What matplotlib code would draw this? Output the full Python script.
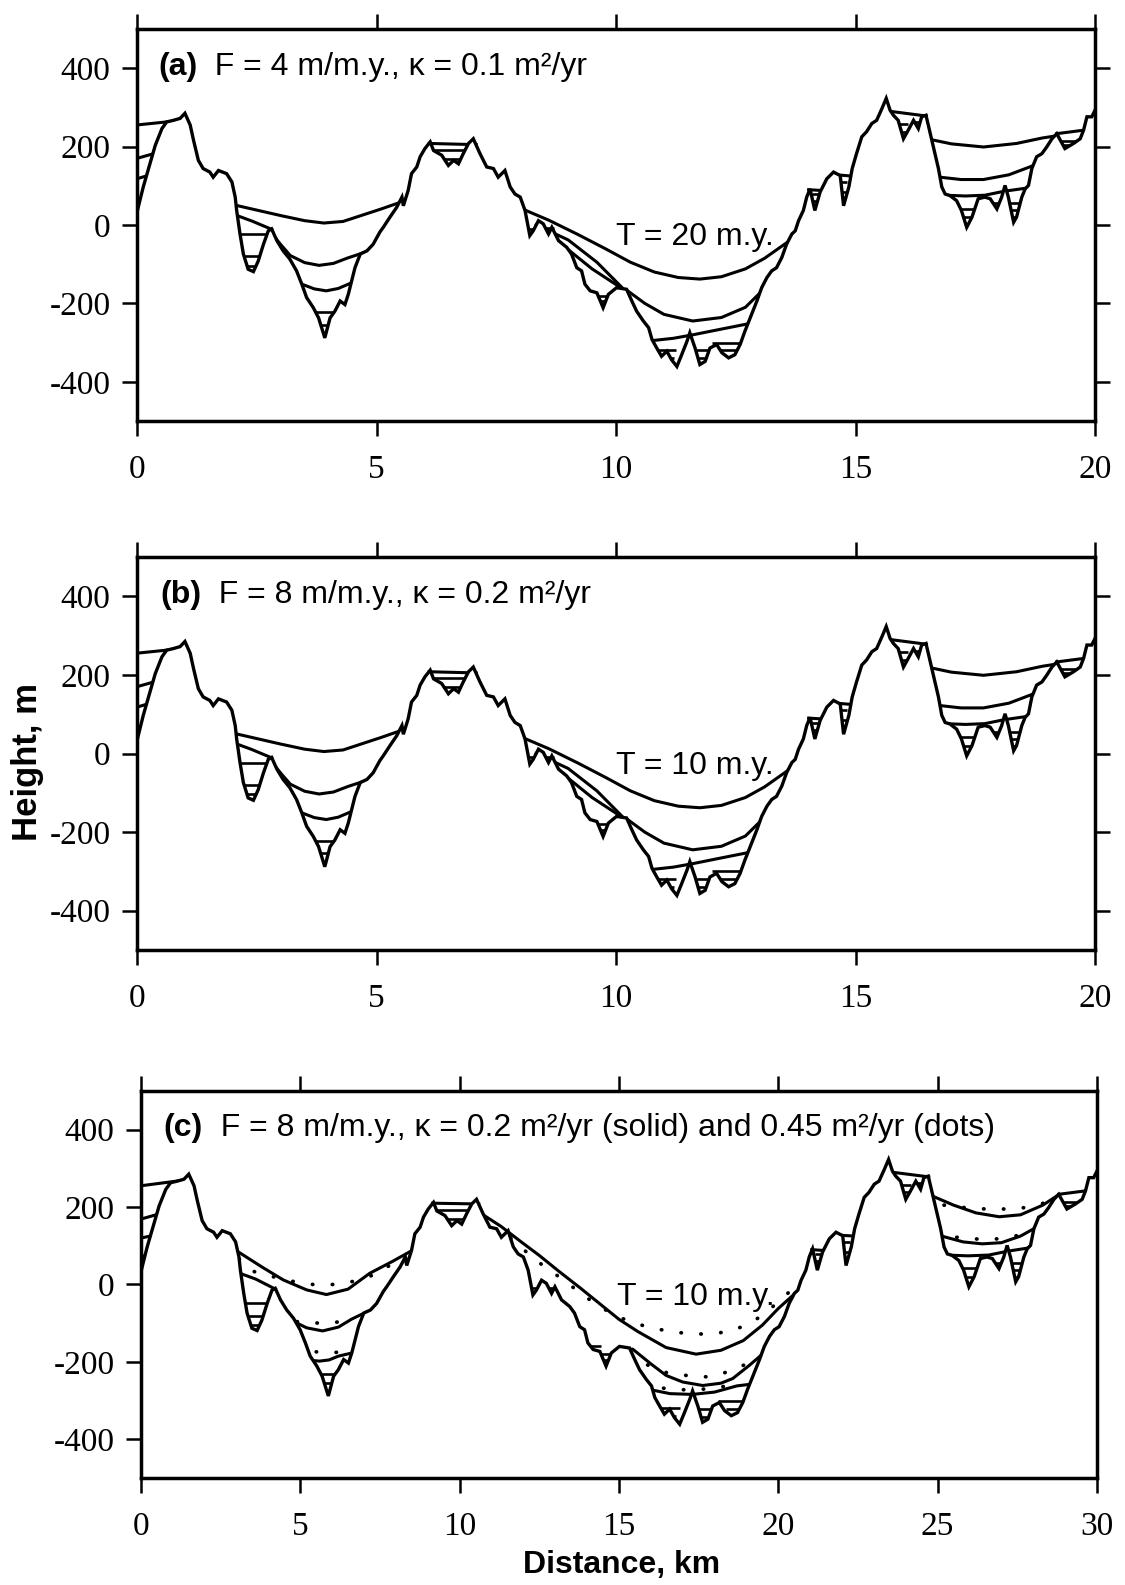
import matplotlib as mpl
mpl.use('Agg')
import matplotlib.pyplot as plt
from matplotlib.patches import Polygon
from matplotlib import font_manager

plt.rcParams['axes.unicode_minus'] = False

# topography profile used in panels (a) and (b): distance (km), height (m)
topo_x = [0.00, 0.13, 0.27, 0.38, 0.52, 0.62, 0.76, 0.90, 1.00, 1.11, 1.18, 1.28, 1.38, 1.52, 1.59,
          1.70, 1.87, 1.98, 2.05, 2.08, 2.15, 2.22, 2.32, 2.43, 2.53, 2.64, 2.74, 2.81, 2.92, 3.05,
          3.19, 3.33, 3.44, 3.54, 3.68, 3.79, 3.92, 4.03, 4.13, 4.24, 4.34, 4.41, 4.48, 4.55, 4.66,
          4.80, 4.93, 5.07, 5.14, 5.28, 5.42, 5.53, 5.56, 5.66, 5.73, 5.84, 5.91, 6.01, 6.12, 6.19,
          6.36, 6.50, 6.61, 6.71, 6.81, 6.92, 7.02, 7.16, 7.30, 7.44, 7.54, 7.68, 7.79, 7.89, 8.00,
          8.10, 8.20, 8.27, 8.38, 8.48, 8.59, 8.66, 8.80, 8.97, 9.07, 9.18, 9.28, 9.35, 9.46, 9.60,
          9.73, 9.84, 10.01, 10.22, 10.33, 10.43, 10.57, 10.68, 10.75, 10.85, 10.95, 11.06, 11.16,
          11.27, 11.37, 11.48, 11.54, 11.65, 11.75, 11.86, 11.96, 12.10, 12.21, 12.35, 12.48, 12.59,
          12.69, 12.80, 12.94, 13.04, 13.15, 13.25, 13.35, 13.46, 13.56, 13.67, 13.74, 13.81, 13.91,
          13.98, 14.05, 14.15, 14.26, 14.40, 14.54, 14.68, 14.75, 14.86, 14.93, 15.02, 15.13, 15.23,
          15.34, 15.44, 15.55, 15.64, 15.72, 15.79, 15.89, 16.00, 16.10, 16.21, 16.31, 16.38, 16.47,
          16.56, 16.66, 16.73, 16.80, 16.87, 16.97, 17.11, 17.21, 17.32, 17.43, 17.56, 17.70, 17.81,
          17.95, 18.05, 18.12, 18.19, 18.30, 18.36, 18.47, 18.54, 18.61, 18.68, 18.78, 18.89, 18.99,
          19.10, 19.20, 19.37, 19.55, 19.69, 19.76, 19.83, 19.93, 20.00]
topo_h = [33, 97, 156, 203, 246, 263, 267, 272, 285, 255, 216, 165, 144, 135, 122,
          139, 131, 110, 71, 37, -23, -74, -113, -119, -92, -49, -15, -10, -40, -66,
          -87, -117, -151, -185, -211, -237, -288, -237, -220, -194, -203, -177, -143, -109, -74,
          -66, -49, -18, -6, 20, 45, 71, 49, 88, 131, 148, 174, 195, 212, 190,
          178, 152, 165, 156, 182, 208, 220, 182, 148, 144, 122, 139, 97, 79, 71,
          37, -27, -15, 11, 3, -23, -6, -40, -57, -74, -109, -117, -151, -168, -173,
          -211, -177, -160, -164, -194, -220, -245, -262, -292, -314, -335, -322, -344,
          -361, -331, -297, -275, -314, -356, -348, -314, -305, -326, -339, -331, -305,
          -271, -237, -194, -160, -134, -117, -109, -83, -49, -23, -15, 11, 37,
          71, 92, 37, 84, 118, 135, 126, 49, 97, 144, 182, 225, 238,
          259, 267, 297, 323, 293, 280, 267, 220, 242, 267, 246, 276, 280,
          233, 182, 144, 97, 79, 75, 62, 37, -6, 20, 67, 71, 67,
          41, 71, 101, 71, 7, 20, 71, 92, 101, 144, 174, 182, 199,
          220, 233, 195, 208, 220, 242, 276, 276, 293]
stretch_c = 1.5   # panel (c) shows the same profile over 30 km

# sediment surfaces, panels (a) and (b)
ab_solid = [
    ([-0.1, 0.7], [254, 264]),
    ([0.0, 0.35], [170, 182]),
    ([0.0, 0.22], [118, 126]),
    ([0.0, 0.12], [62, 70]),
    ([2.0, 2.5, 3.0, 3.5, 3.9, 4.3, 4.75, 5.1, 5.5], [52, 38, 24, 11, 5, 9, 27, 41, 58]),
    ([2.0, 2.4, 2.81], [28, 10, -11]),
    ([2.83, 3.0, 3.2, 3.5, 3.8, 4.1, 4.4, 4.8], [-24, -50, -78, -96, -103, -98, -84, -68]),
    ([3.42, 3.7, 3.95, 4.2, 4.47], [-150, -163, -168, -162, -148]),
    ([6.1, 7.08], [208, 205]),
    ([8.1, 8.6, 9.2, 9.8, 10.3, 10.8, 11.3, 11.75, 12.2, 12.7, 13.1, 13.6],
     [38, 12, -24, -62, -95, -120, -134, -138, -132, -112, -85, -42]),
    ([8.33, 9.0, 9.6, 10.25], [0, -38, -95, -175]),
    ([8.82, 9.5, 10.2], [-45, -112, -168]),
    ([10.22, 10.6, 11.0, 11.6, 12.2, 12.7, 13.05], [-166, -200, -228, -245, -236, -210, -168]),
    ([10.75, 11.2, 11.61, 12.1, 12.76], [-295, -289, -280, -268, -252]),
    ([14.02, 14.3], [90, 88]),
    ([14.6, 14.9], [128, 125]),
    ([15.72, 16.48], [290, 278]),
    ([16.57, 17.0, 17.67, 18.36, 18.9, 19.22], [218, 207, 199, 208, 222, 228]),
    ([16.76, 17.2, 17.67, 18.2, 18.72], [122, 116, 116, 128, 152]),
    ([16.85, 17.3, 17.7, 18.1, 18.56], [76, 74, 76, 86, 94]),
    ([19.2, 19.77], [233, 242]),
]
ab_stripes = [
    (2.1, 2.75, -23), (2.15, 2.65, -79), (2.2, 2.6, -104),
    (3.6, 4.15, -222), (3.7, 4.05, -254),
    (6.15, 6.95, 192), (6.4, 6.8, 168),
    (8.12, 8.3, -10), (8.5, 8.7, -8), (9.62, 9.85, -180), (9.66, 9.8, -195),
    (10.8, 11.25, -318), (10.9, 11.2, -340), (11.55, 11.95, -318), (11.65, 11.9, -340),
    (12.0, 12.65, -300), (12.15, 12.55, -320),
    (14.08, 14.25, 60), (14.1, 14.22, 78), (14.68, 14.85, 85), (14.7, 14.82, 110),
    (15.9, 16.1, 258), (15.95, 16.06, 238), (16.25, 16.35, 262),
    (17.15, 17.5, 42), (17.2, 17.45, 20), (17.85, 18.02, 55),
    (18.22, 18.45, 55), (18.24, 18.42, 37), (18.27, 18.38, 20),
    (19.25, 19.6, 214), (19.3, 19.5, 204),
]

# sediment surfaces, panel (c): kappa = 0.2 (solid) and 0.45 (dots)
c_solid = [
    ([-0.1, 1.4], [254, 270]),
    ([0.0, 0.6], [169, 183]),
    ([0.0, 0.35], [120, 126]),
    ([0.0, 0.2], [72, 76]),
    ([3.02, 3.8, 4.46, 5.2, 5.82, 6.5, 7.18, 7.9, 8.6], [86, 45, 12, -14, -26, -12, 29, 60, 92]),
    ([3.0, 3.6, 4.22], [32, 14, -12]),
    ([4.62, 4.9, 5.2, 5.7, 6.2, 6.6, 7.05], [-80, -100, -112, -120, -110, -90, -72]),
    ([5.2, 5.6, 5.9, 6.2, 6.62], [-195, -198, -195, -185, -177]),
    ([9.15, 10.6], [210, 208]),
    ([10.7, 11.3, 11.9, 12.5, 13.1, 13.8, 14.4, 15.0, 15.6, 16.48, 17.42, 18.2, 18.9, 19.5, 20.0, 20.5],
     [182, 150, 112, 75, 35, -10, -50, -90, -122, -163, -180, -170, -145, -105, -62, -25]),
    ([15.3, 15.43, 16.0, 16.48, 17.0, 17.63, 18.2, 18.57, 19.09, 19.5],
     [-168, -167, -205, -235, -252, -261, -255, -243, -209, -180]),
    ([16.0, 16.6, 17.3, 18.0, 18.7, 19.1], [-272, -282, -284, -278, -262, -258]),
    ([21.05, 21.4], [90, 88]),
    ([21.8, 22.4], [128, 125]),
    ([23.58, 24.72], [290, 278]),
    ([24.85, 25.5, 26.2, 26.93, 27.6, 28.3, 28.8], [228, 205, 185, 175, 180, 205, 232]),
    ([25.13, 25.8, 26.4, 27.0, 27.6, 28.3], [125, 110, 105, 108, 125, 157]),
    ([25.28, 25.95, 26.6, 27.2, 27.82], [76, 74, 76, 86, 94]),
    ([28.8, 29.65], [233, 242]),
]
c_dots = [
    ([3.08, 3.52, 4.15, 4.77, 5.4, 6.03, 6.66, 6.97, 7.5, 7.9], [66, 34, 20, 8, 0, 0, 8, 14, 32, 55]),
    ([4.9, 5.3, 5.7, 6.1, 6.35], [-96, -99, -100, -98, -94]),
    ([5.5, 5.85, 6.25], [-174, -176, -175]),
    ([11.6, 12.4, 13.2, 14.0, 14.7, 15.3, 16.0, 16.8, 17.6, 18.4, 19.0, 19.5, 20.0, 20.4],
     [120, 62, 15, -35, -72, -95, -112, -124, -128, -123, -105, -80, -45, -15]),
    ([15.9, 16.5, 17.2, 17.84, 18.57, 19.0], [-208, -228, -236, -239, -222, -205]),
    ([16.4, 17.0, 17.8, 18.4], [-268, -272, -270, -262]),
    ([25.2, 25.8, 26.5, 27.3, 27.9, 28.4], [205, 199, 195, 195, 200, 212]),
    ([25.6, 26.3, 27.0, 27.6], [122, 117, 118, 128]),
]
c_stripes = [
    (3.15, 4.1, -48), (3.25, 4.0, -82), (3.35, 3.9, -105),
    (5.4, 6.2, -230), (5.6, 6.05, -255),
    (9.2, 10.45, 192), (9.6, 10.2, 168),
    (12.2, 12.45, -8), (12.8, 13.0, -10), (13.9, 14.45, -160), (14.45, 14.8, -180), (14.5, 14.75, -196),
    (16.15, 16.9, -318), (16.3, 16.8, -340), (17.3, 18.0, -322), (17.5, 17.85, -342),
    (18.1, 18.9, -302), (18.35, 18.75, -322),
    (21.1, 21.4, 60), (21.15, 21.35, 78), (22.0, 22.3, 85), (22.05, 22.25, 110),
    (23.85, 24.15, 258), (23.9, 24.1, 238), (24.35, 24.55, 262),
    (25.7, 26.3, 42), (25.8, 26.2, 20), (26.8, 27.05, 55),
    (27.3, 27.7, 55), (27.35, 27.65, 37), (27.4, 27.58, 20),
    (28.9, 29.4, 214), (28.95, 29.3, 204),
]

names = {f.name for f in font_manager.fontManager.ttflist}
bold_family = 'Liberation Sans Narrow' if 'Liberation Sans Narrow' in names else 'Liberation Sans'
SANS = 'Liberation Sans'
SERIF = 'Liberation Serif'
FS = 23


def draw_panel(ax, tx, th, solid, dots, stripes, xmax, tag, rest, tlabel, tpos, title_x):
    verts = list(zip(tx, th)) + [(tx[-1], 2000), (tx[0], 2000)]
    clip = Polygon(verts, closed=True, transform=ax.transData)

    ax.plot(tx, th, color='black', lw=2.4, zorder=4, solid_joinstyle='miter')
    for xs, hs in solid:
        ln, = ax.plot(xs, hs, color='black', lw=2.2, zorder=3)
        ln.set_clip_path(clip)
    for xs, hs in dots:
        ln, = ax.plot(xs, hs, color='black', lw=2.7, zorder=3,
                      linestyle=(0, (0.1, 5.2)), dash_capstyle='round')
        ln.set_clip_path(clip)
    lc = ax.hlines([s[2] for s in stripes], [s[0] for s in stripes], [s[1] for s in stripes],
                   color='black', lw=1.9, zorder=3)
    lc.set_clip_path(clip)

    ax.set_xlim(0, xmax)
    ax.set_ylim(-500, 500)
    ax.set_xticks(range(0, xmax + 1, 5))
    ax.set_yticks([-400, -200, 0, 200, 400])
    ax.tick_params(direction='out', length=11, width=1.8, top=True, right=True,
                   labeltop=False, labelright=False)
    ax.tick_params(axis='x', pad=13)
    ax.tick_params(axis='y', pad=8)
    for lab in ax.get_xticklabels() + ax.get_yticklabels():
        lab.set_fontfamily(SERIF)
        lab.set_fontsize(24)
    for sp in ax.spines.values():
        sp.set_linewidth(2.5)

    t = ax.text(title_x, 383, tag, fontsize=FS, fontweight='bold', family=SANS,
                ha='left', va='baseline')
    ax.annotate(rest, xy=(1, 0), xycoords=t, fontsize=FS, family=SANS,
                ha='left', va='bottom')
    ax.text(tpos[0], tpos[1], tlabel, fontsize=FS, family=SANS, ha='left', va='baseline',
            zorder=5)


fig = plt.figure(figsize=(11.25, 15.85), dpi=100)
ax_a = fig.add_axes([0.1218, 0.7344, 0.8516, 0.2473])
ax_b = fig.add_axes([0.1218, 0.4006, 0.8516, 0.2480])
ax_c = fig.add_axes([0.1253, 0.0675, 0.8498, 0.2442])

draw_panel(ax_a, topo_x, topo_h, ab_solid, [], ab_stripes, 20,
           '(a)', '  F = 4 m/m.y., \u03ba = 0.1 m\u00b2/yr', 'T = 20 m.y.', (10.0, -52), 0.44)
draw_panel(ax_b, topo_x, topo_h, ab_solid, [], ab_stripes, 20,
           '(b)', '  F = 8 m/m.y., \u03ba = 0.2 m\u00b2/yr', 'T = 10 m.y.', (10.0, -52), 0.48)
topo_xc = [v * stretch_c for v in topo_x]
draw_panel(ax_c, topo_xc, topo_h, c_solid, c_dots, c_stripes, 30,
           '(c)', '  F = 8 m/m.y., \u03ba = 0.2 m\u00b2/yr (solid) and 0.45 m\u00b2/yr (dots)',
           'T = 10 m.y.', (14.95, -52), 0.70)
ax_c.tick_params(right=False)

fig.text(28 / 1125, 1 - 762 / 1585, 'Height, m', rotation=90, ha='center', va='center',
         fontsize=25, fontweight='bold', family=bold_family)
fig.text(622 / 1125, 1 - 1565 / 1585, 'Distance, km', ha='center', va='center',
         fontsize=23, fontweight='bold', family=bold_family)

fig.savefig('out.png', dpi=100)
